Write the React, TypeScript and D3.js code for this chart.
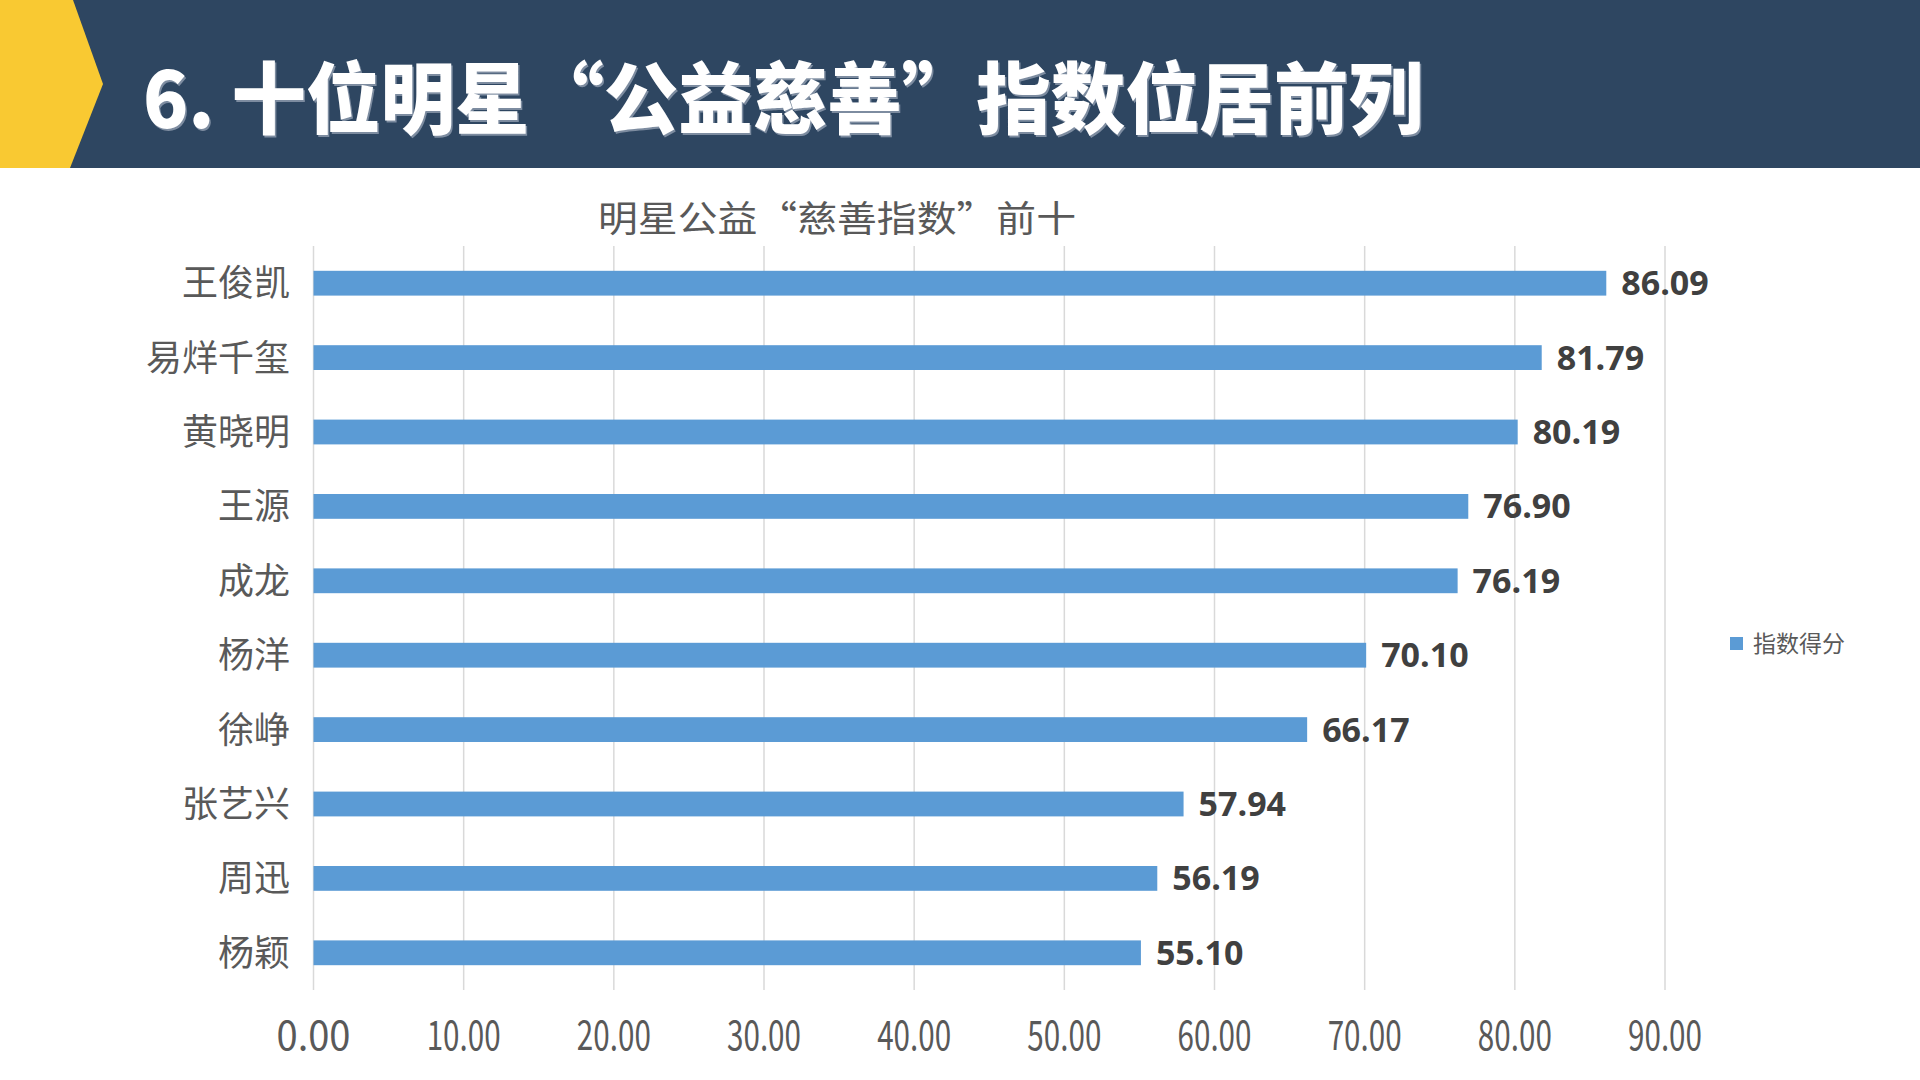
import React from "react";
import * as d3 from "d3";

const pageTitle = "6. 十位明星“公益慈善”指数位居前列";
const chartTitle = "明星公益“慈善指数”前十";
const seriesName = "指数得分";
const categories = ["王俊凯", "易烊千玺", "黄晓明", "王源", "成龙", "杨洋", "徐峥", "张艺兴", "周迅", "杨颖"];
const values = [86.09, 81.79, 80.19, 76.9, 76.19, 70.1, 66.17, 57.94, 56.19, 55.1];
const ticks = [0, 10, 20, 30, 40, 50, 60, 70, 80, 90];

const W = 1920;
const H = 1080;
const plot = { left: 313.5, right: 1665, top: 246, bottom: 990 };

export default function App() {
  const x = d3.scaleLinear().domain([0, 90]).range([plot.left, plot.right]);
  const y = d3
    .scaleBand<string>()
    .domain(categories)
    .range([plot.top, plot.bottom])
    .paddingInner(2 / 3)
    .paddingOuter(1 / 3);
  const bw = y.bandwidth();
  const cjk = "'Noto Sans CJK SC', 'Noto Sans', sans-serif";

  return (
    <svg
      width={W}
      height={H}
      viewBox={`0 0 ${W} ${H}`}
      style={{ position: "absolute", left: 0, top: 0, background: "#ffffff" }}
    >
      <rect x={0} y={0} width={W} height={H} fill="#ffffff" />
      <rect x={0} y={0} width={W} height={168} fill="#2E4661" />
      <polygon points="0,0 73,0 103,84 70,168 0,168" fill="#F9C932" />
      <text
        x={144.5}
        y={129.5}
        fontFamily={cjk}
        fontWeight={900}
        fontSize={78}
        fill="#7D8CA0"
        textLength={1280}
        lengthAdjust="spacingAndGlyphs"
      >
        {pageTitle}
      </text>
      <text
        x={143}
        y={128}
        fontFamily={cjk}
        fontWeight={900}
        fontSize={78}
        fill="#ffffff"
        textLength={1280}
        lengthAdjust="spacingAndGlyphs"
      >
        {pageTitle}
      </text>

      <text
        x={837}
        y={232}
        textAnchor="middle"
        fontFamily={cjk}
        fontSize={36}
        fill="#595959"
        textLength={478}
        lengthAdjust="spacingAndGlyphs"
      >
        {chartTitle}
      </text>

      {ticks.map((t) => (
        <line
          key={"g" + t}
          x1={x(t)}
          x2={x(t)}
          y1={plot.top}
          y2={plot.bottom}
          stroke="#D9D9D9"
          strokeWidth={1.5}
        />
      ))}

      {categories.map((c, i) => (
        <g key={c}>
          <rect
            x={x(0)}
            y={y(c)!}
            width={x(values[i]) - x(0)}
            height={bw}
            fill="#5B9BD5"
          />
          <text
            x={x(values[i]) + 15}
            y={y(c)! + bw / 2}
            dy="0.35em"
            fontFamily="'Open Sans', sans-serif"
            fontWeight={700}
            fontSize={34}
            fill="#404040"
          >
            {values[i].toFixed(2)}
          </text>
          <text
            x={290}
            y={y(c)! + bw / 2}
            dy="0.36em"
            textAnchor="end"
            fontFamily={cjk}
            fontSize={36}
            fill="#595959"
          >
            {c}
          </text>
        </g>
      ))}

      {ticks.map((t) => (
        <text
          key={"t" + t}
          x={x(t)}
          y={1050}
          textAnchor="middle"
          fontFamily={cjk}
          fontSize={40}
          fill="#595959"
          textLength={74}
          lengthAdjust="spacingAndGlyphs"
        >
          {t.toFixed(2)}
        </text>
      ))}

      <rect x={1730} y={637} width={13} height={13} fill="#5B9BD5" />
      <text x={1753} y={652} fontFamily={cjk} fontSize={23} fill="#595959">
        {seriesName}
      </text>
    </svg>
  );
}
